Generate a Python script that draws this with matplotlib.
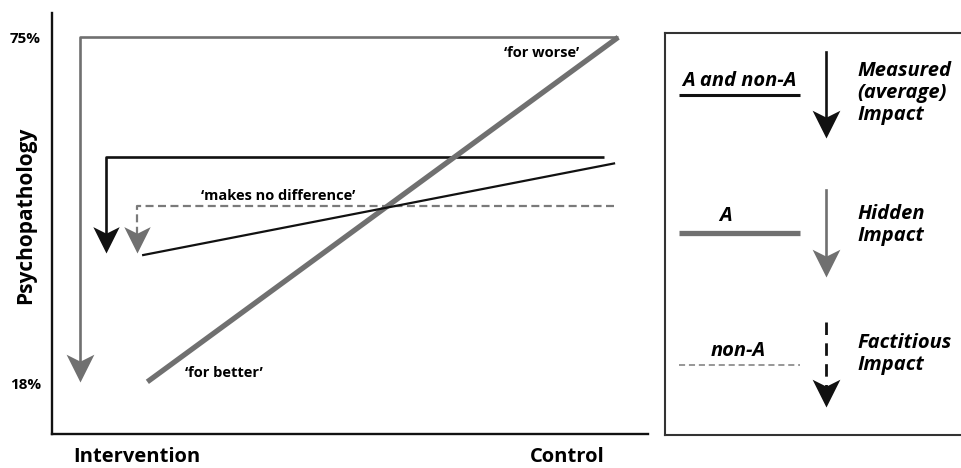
import matplotlib
matplotlib.use('Agg')
import matplotlib.pyplot as plt
from matplotlib.path import Path

plt.rcParams['font.family'] = ['Open Sans', 'DejaVu Sans']

# data (psychopathology %)
x_groups = [0.16, 0.95]          # intervention end, control end of the lines
x_labels = ['Intervention', 'Control']
x_label_pos = [0.143, 0.864]
y_ticks = [75, 18]
y_ticklabels = ['75%', '18%']

measured = [39.1, 54.2]          # A and non-A (average)
group_a = [18.2, 75.0]           # A
nonA_level = 47.2                # non-A, makes no difference

# brackets: (x left, x right, level, arrow tip)
hidden_br = [0.047, 0.950, 75.0, 18.2]
measured_br = [0.091, 0.926, 55.2, 39.4]
nonA_br = [0.143, 0.943, nonA_level, 39.4]

GRAY = '#707070'
DGRAY = '#7a7a7a'
BLACK = '#111111'

# stealth arrow head, tip at the marker anchor
head = Path([(0, 0), (-0.5, 1.0), (0, 0.75), (0.5, 1.0), (0, 0)],
            [Path.MOVETO, Path.LINETO, Path.LINETO, Path.LINETO, Path.CLOSEPOLY])

fig = plt.figure(figsize=(9.62, 4.68), dpi=100)
W, H = 962, 468
ax = fig.add_axes([52 / W, (H - 434) / H, (648 - 52) / W, (434 - 13) / H])
ax.set_xlim(0, 1)
ax.set_ylim(9.6, 79.0)
for s in ['top', 'right']:
    ax.spines[s].set_visible(False)
for s in ['left', 'bottom']:
    ax.spines[s].set_linewidth(1.7)
    ax.spines[s].set_color(BLACK)

# hidden impact bracket (gray)
xl, xr, lev, tip = hidden_br
ax.plot([xr, xl, xl], [lev, lev, tip + 2], color=GRAY, lw=1.9, solid_capstyle='butt')
ax.plot([xl], [tip], marker=head, ms=40, color=GRAY, mew=0, ls='none')

# measured bracket (black)
xl, xr, lev, tip = measured_br
ax.plot([xr, xl, xl], [lev, lev, tip + 2], color=BLACK, lw=1.9, solid_capstyle='butt')
ax.plot([xl], [tip], marker=head, ms=38, color=BLACK, mew=0, ls='none')

# non-A dashed bracket
xl, xr, lev, tip = nonA_br
ax.plot([xr, xl, xl], [lev, lev, tip + 2], color=DGRAY, lw=1.6, dashes=(3.6, 2.0))
ax.plot([xl], [tip], marker=head, ms=38, color=GRAY, mew=0, ls='none')

# group lines
ax.plot(x_groups, group_a, color=GRAY, lw=3.8, solid_capstyle='butt')
ax.plot([0.153, 0.943], measured, color=BLACK, lw=1.6)

ax.text(0.822, 72.4, '\u2018for worse\u2019', ha='center', va='center', fontsize=10.5, fontweight='bold')
ax.text(0.379, 48.9, '\u2018makes no difference\u2019', ha='center', va='center', fontsize=10.5, fontweight='bold')
ax.text(0.289, 19.6, '\u2018for better\u2019', ha='center', va='center', fontsize=10.5, fontweight='bold')

ax.set_yticks(y_ticks)
ax.set_yticklabels(y_ticklabels, fontsize=11, fontweight='bold')
ax.set_xticks(x_label_pos)
ax.set_xticklabels(x_labels, fontsize=14.5, fontweight='bold')
ax.tick_params(axis='y', length=0, pad=8)
ax.tick_params(axis='x', length=0, pad=9)
ax.text(-0.045, 0.52, 'Psychopathology', transform=ax.transAxes, rotation=90,
        ha='center', va='center', fontsize=15, fontweight='bold')

# key box
lg = fig.add_axes([665 / W, (H - 435) / H, (990 - 665) / W, (435 - 33) / H])
lg.set_xlim(665, 990)
lg.set_ylim(435, 33)
lg.set_xticks([])
lg.set_yticks([])
for s in lg.spines.values():
    s.set_linewidth(1.5)
    s.set_color('#333333')
lg.spines['right'].set_visible(False)

fs = 14.5
lg.text(739, 81, 'A and non-A', ha='center', va='center', fontsize=fs, fontweight='bold', style='italic')
lg.plot([679, 800], [95, 95], color=BLACK, lw=2.2, solid_capstyle='butt')
lg.plot([826, 826], [52, 132], color=BLACK, lw=1.9)
lg.plot([826], [138], marker=head, ms=40, color=BLACK, mew=0, ls='none')
lg.text(857, 93, 'Measured\n(average)\nImpact', ha='left', va='center', fontsize=fs,
        fontweight='bold', style='italic', linespacing=1.12)

lg.text(726, 216, 'A', ha='center', va='center', fontsize=fs, fontweight='bold', style='italic')
lg.plot([679, 800], [233, 233], color=GRAY, lw=3.8, solid_capstyle='butt')
lg.plot([826, 826], [190, 271], color=GRAY, lw=1.9)
lg.plot([826], [277], marker=head, ms=40, color=GRAY, mew=0, ls='none')
lg.text(857, 225, 'Hidden\nImpact', ha='left', va='center', fontsize=fs,
        fontweight='bold', style='italic', linespacing=1.12)

lg.text(738, 351, 'non-A', ha='center', va='center', fontsize=fs, fontweight='bold', style='italic')
lg.plot([679, 800], [365, 365], color=DGRAY, lw=1.1, dashes=(4, 2.5))
lg.plot([826, 826], [322, 400], color=BLACK, lw=2.0, dashes=(4.5, 3))
lg.plot([826], [407], marker=head, ms=40, color=BLACK, mew=0, ls='none')
lg.text(857, 354, 'Factitious\nImpact', ha='left', va='center', fontsize=fs,
        fontweight='bold', style='italic', linespacing=1.12)

fig.savefig('out.png', dpi=100)
